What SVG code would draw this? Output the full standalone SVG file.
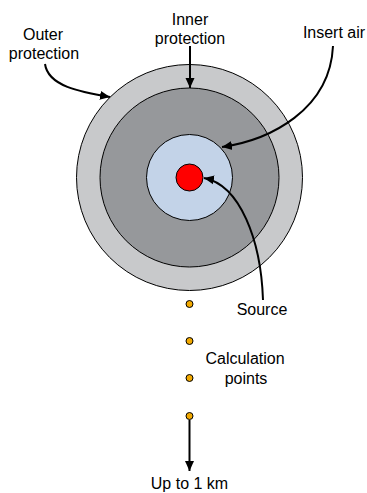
<svg xmlns="http://www.w3.org/2000/svg" width="367" height="493" viewBox="0 0 367 493">
<style>
text{font-family:"Liberation Sans",Arial,sans-serif;font-size:16px;fill:#000;text-anchor:middle}
.ring{stroke:#000;stroke-width:1}
.pt{fill:#F2A900;stroke:#000;stroke-width:1}
.conn{fill:none;stroke:#000;stroke-width:2}
</style>
<defs>
<marker id="ah" markerUnits="userSpaceOnUse" markerWidth="11" markerHeight="10" refX="10" refY="5" orient="auto" viewBox="0 0 11 10">
<path d="M0,0.5 L10,5 L0,9.5 z" fill="#000"/>
</marker>
</defs>
<g id="outer-protection"><circle class="ring" cx="189.5" cy="177.5" r="113" fill="#C8C9CB"/></g>
<g id="inner-protection"><circle class="ring" cx="189.5" cy="177.5" r="89.5" fill="#96989B"/></g>
<g id="insert-air"><circle class="ring" cx="189.5" cy="177.5" r="43" fill="#C3D3E8"/></g>
<g id="source"><circle class="ring" cx="189.5" cy="177.5" r="13.5" fill="#FF0000"/></g>
<g id="calc-points">
<circle class="pt" cx="189.5" cy="304" r="3.5"/>
<circle class="pt" cx="189.5" cy="341" r="3.5"/>
<circle class="pt" cx="189.5" cy="378" r="3.5"/>
<circle class="pt" cx="189.5" cy="416" r="3.5"/>
</g>
<g id="labels">
<text x="43" y="40">Outer</text>
<text x="44" y="59">protection</text>
<text x="190" y="25">Inner</text>
<text x="190" y="44">protection</text>
<text x="334" y="38">Insert air</text>
<text x="262" y="315">Source</text>
<text x="245" y="364">Calculation</text>
<text x="246" y="384">points</text>
<text x="189.5" y="489">Up to 1 km</text>
</g>
<g id="connectors">
<path class="conn" d="M45,64 C48,86 80,92 110,97" marker-end="url(#ah)"/>
<path class="conn" d="M190,46 L190,88" marker-end="url(#ah)"/>
<path class="conn" d="M333,46 C330,110 270,140 222,147" marker-end="url(#ah)"/>
<path class="conn" d="M263,300 C261,240 240,185 204,178" marker-end="url(#ah)"/>
<path class="conn" d="M189.5,420 L189.5,471" marker-end="url(#ah)"/>
</g>
</svg>
